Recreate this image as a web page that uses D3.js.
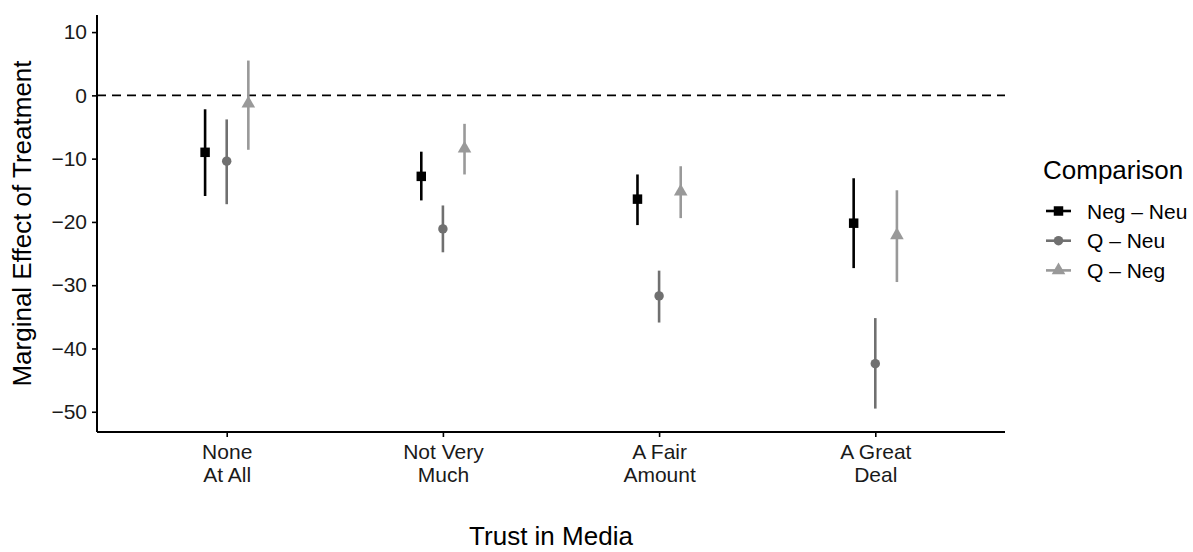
<!DOCTYPE html>
<html>
<head>
<meta charset="utf-8">
<script src="https://cdn.jsdelivr.net/npm/d3@7"></script>
<style>
  html, body { margin: 0; padding: 0; background: #fff; }
  svg { display: block; font-family: "Liberation Sans", Arial, sans-serif; }
</style>
</head>
<body>
<svg id="chart" width="1193" height="552"></svg>
<script>
// Trust-in-media levels (x axis) and their two-line tick labels
const categories = ["None At All", "Not Very Much", "A Fair Amount", "A Great Deal"];
const categoryLabels = [["None", "At All"], ["Not Very", "Much"], ["A Fair", "Amount"], ["A Great", "Deal"]];

// Comparisons drawn side by side within each category
const comparisons = ["Neg \u2013 Neu", "Q \u2013 Neu", "Q \u2013 Neg"];

// Point estimates and interval bounds, one value per category
const negNeuEst  = [-9.0, -12.8, -16.4, -20.2];
const negNeuLow  = [-15.9, -16.6, -20.5, -27.3];
const negNeuHigh = [-2.2, -8.9, -12.5, -13.1];

const qNeuEst  = [-10.4, -21.1, -31.7, -42.4];
const qNeuLow  = [-17.2, -24.8, -35.9, -49.5];
const qNeuHigh = [-3.8, -17.4, -27.7, -35.2];

const qNegEst  = [-1.3, -8.4, -15.2, -22.1];
const qNegLow  = [-8.6, -12.5, -19.4, -29.5];
const qNegHigh = [5.5, -4.5, -11.2, -15.0];

const yTicks = [10, 0, -10, -20, -30, -40, -50];

// Build rows from the arrays above
const seriesArrays = [
  [negNeuEst, negNeuLow, negNeuHigh],
  [qNeuEst, qNeuLow, qNeuHigh],
  [qNegEst, qNegLow, qNegHigh]
];
const rows = [];
comparisons.forEach((cmp, s) => {
  categories.forEach((cat, i) => {
    rows.push({ comparison: cmp, category: cat,
      est: seriesArrays[s][0][i], low: seriesArrays[s][1][i], high: seriesArrays[s][2][i] });
  });
});

const svg = d3.select("#chart");
const margin = { left: 97, right: 188, top: 15, bottom: 120 };
const W = 1193, H = 552;
const plotL = margin.left, plotR = W - margin.right, plotT = margin.top, plotB = H - margin.bottom;

const color = d3.scaleOrdinal().domain(comparisons).range(["#000000", "#707070", "#999999"]);
const shapes = d3.scaleOrdinal().domain(comparisons)
  .range([d3.symbolSquare, d3.symbolCircle, d3.symbolTriangle]);
const shapeSize = d3.scaleOrdinal().domain(comparisons).range([90, 70, 80]);

// Discrete x positions with 0.6 category padding on each side
const x = d3.scalePoint().domain(categories).range([plotL, plotR]).padding(0.6);
const dodge = d3.scalePoint().domain(comparisons).range([-0.1, 0.1]);
const step = x.step();

const y = d3.scaleLinear().domain([-53.2, 12.7]).range([plotB, plotT]);

// Zero reference line
svg.append("line")
  .attr("x1", plotL).attr("x2", plotR)
  .attr("y1", y(0)).attr("y2", y(0))
  .attr("stroke", "#000").attr("stroke-width", 1.8)
  .attr("stroke-dasharray", "9,6");

// Error bars and points
const g = svg.append("g");
g.selectAll("line.err").data(rows).join("line")
  .attr("class", "err")
  .attr("x1", d => x(d.category) + dodge(d.comparison) * step)
  .attr("x2", d => x(d.category) + dodge(d.comparison) * step)
  .attr("y1", d => y(d.low)).attr("y2", d => y(d.high))
  .attr("stroke", d => color(d.comparison))
  .attr("stroke-width", 2.6);

g.selectAll("path.pt").data(rows).join("path")
  .attr("class", "pt")
  .attr("transform", d => `translate(${x(d.category) + dodge(d.comparison) * step},${y(d.est)})`)
  .attr("d", d => d3.symbol().type(shapes(d.comparison)).size(shapeSize(d.comparison))())
  .attr("fill", d => color(d.comparison));

// Axes
const yAxis = svg.append("g")
  .attr("transform", `translate(${plotL},0)`)
  .call(d3.axisLeft(y).tickValues(yTicks).tickSize(5).tickPadding(5).tickSizeOuter(0));
yAxis.select(".domain").attr("stroke-width", 2).attr("d", `M0,${plotT}V${plotB}`);
yAxis.selectAll(".tick line").attr("stroke-width", 1.6);
yAxis.selectAll(".tick text").attr("font-size", 21).attr("fill", "#1a1a1a");

const xAxis = svg.append("g")
  .attr("transform", `translate(0,${plotB})`)
  .call(d3.axisBottom(x).tickSize(5).tickSizeOuter(0).tickFormat(""));
xAxis.select(".domain").attr("stroke-width", 2).attr("d", `M${plotL},0H${plotR}`);
xAxis.selectAll(".tick line").attr("stroke-width", 1.6);
xAxis.selectAll(".tick text").remove();
xAxis.selectAll(".tick").each(function(d, i) {
  const t = d3.select(this).append("text")
    .attr("text-anchor", "middle").attr("fill", "#1a1a1a").attr("font-size", 21);
  categoryLabels[i].forEach((ln, k) => {
    t.append("tspan").attr("x", 0).attr("y", 27 + k * 23).text(ln);
  });
});

// Axis titles
svg.append("text")
  .attr("x", (plotL + plotR) / 2).attr("y", 545)
  .attr("text-anchor", "middle").attr("font-size", 26).text("Trust in Media");
svg.append("text")
  .attr("transform", `translate(31,${(plotT + plotB) / 2}) rotate(-90)`)
  .attr("text-anchor", "middle").attr("font-size", 26).text("Marginal Effect of Treatment");

// Legend
const leg = svg.append("g").attr("transform", "translate(1043,0)");
leg.append("text").attr("x", 0).attr("y", 179).attr("font-size", 26).text("Comparison");
comparisons.forEach((cmp, i) => {
  const cy = 211 + i * 29.7;
  leg.append("line").attr("x1", 3).attr("x2", 28).attr("y1", cy).attr("y2", cy)
    .attr("stroke", color(cmp)).attr("stroke-width", 2.6);
  leg.append("path")
    .attr("transform", `translate(15.5,${cy})`)
    .attr("d", d3.symbol().type(shapes(cmp)).size(shapeSize(cmp))())
    .attr("fill", color(cmp));
  leg.append("text").attr("x", 44).attr("y", cy + 7.5).attr("font-size", 21).text(cmp);
});
</script>
</body>
</html>
